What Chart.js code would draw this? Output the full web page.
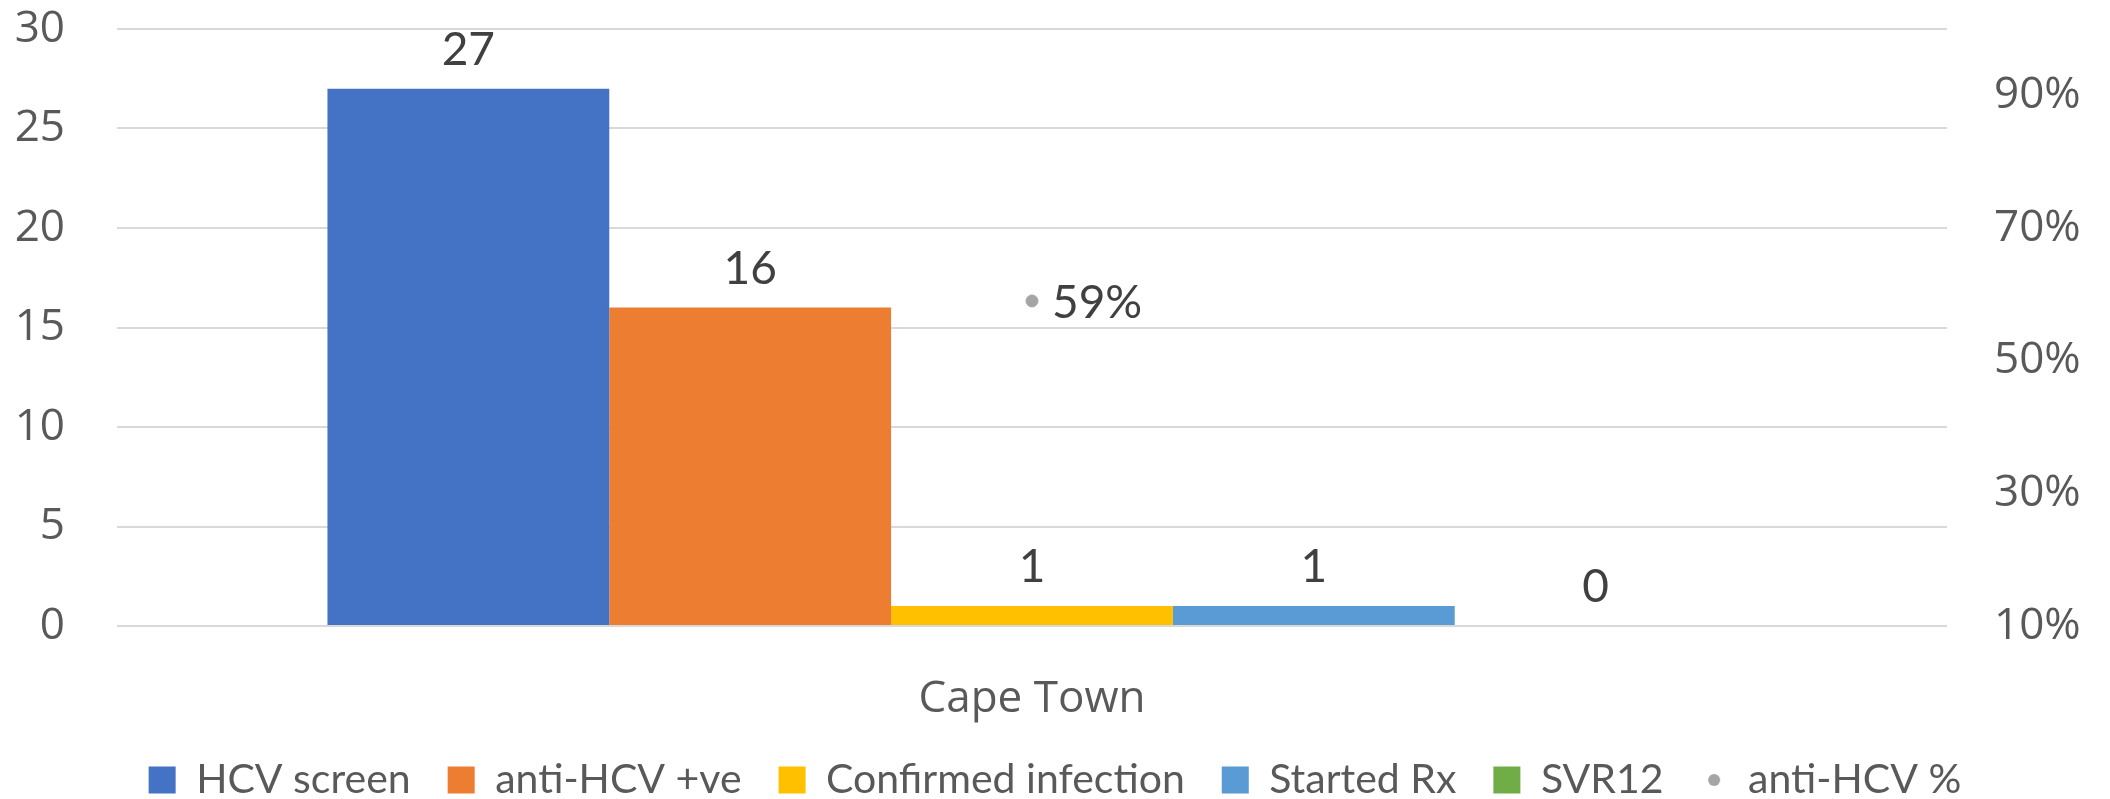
<!DOCTYPE html>
<html>
<head>
<meta charset="utf-8">
<script src="https://cdn.jsdelivr.net/npm/chart.js@4.4.1/dist/chart.umd.min.js"></script>
<style>
  html, body { margin: 0; padding: 0; background: #ffffff; }
  #wrap { width: 2110px; height: 799px; position: relative; }
</style>
</head>
<body>
<div id="wrap"><canvas id="c" width="2110" height="799"></canvas></div>
<script>
// ---- data ----
const categories = ['Cape Town'];
const hcvScreen = [27];
const antiHcvPos = [16];
const confirmedInfection = [1];
const startedRx = [1];
const svr12 = [0];
const antiHcvPct = [0.59];
const seriesNames = ['HCV screen', 'anti-HCV +ve', 'Confirmed infection', 'Started Rx', 'SVR12', 'anti-HCV %'];
const leftTickValues = [0, 5, 10, 15, 20, 25, 30];
const rightTickLabels = ['10%', '30%', '50%', '70%', '90%'];

const colors = ['#4472C4', '#ED7D31', '#FFC000', '#5B9BD5', '#70AD47', '#A5A5A5'];

const barSeries = [hcvScreen, antiHcvPos, confirmedInfection, startedRx, svr12];

const datasets = barSeries.map((vals, i) => ({
  type: 'bar',
  label: seriesNames[i],
  data: vals,
  backgroundColor: colors[i],
  borderWidth: 0,
  yAxisID: 'y',
  barPercentage: 1.0,
  categoryPercentage: 0.77,
  order: 2
}));
datasets.push({
  type: 'line',
  label: seriesNames[5],
  data: antiHcvPct,
  yAxisID: 'y1',
  showLine: false,
  pointRadius: 6,
  pointHoverRadius: 6,
  pointBackgroundColor: colors[5],
  pointBorderColor: colors[5],
  borderColor: colors[5],
  backgroundColor: colors[5],
  order: 1
});

// small dot image for legend marker of the point series
const dot = document.createElement('canvas');
dot.width = 14; dot.height = 14;
(function(){ const g = dot.getContext('2d'); g.fillStyle = colors[5]; g.beginPath(); g.arc(7, 7, 6, 0, Math.PI*2); g.fill(); })();

const valueLabels = {
  id: 'valueLabels',
  afterDatasetsDraw(chart) {
    const ctx = chart.ctx;
    ctx.save();
    ctx.fillStyle = '#404040';
    ctx.font = '46px Lato, "Liberation Sans", sans-serif';
    ctx.textBaseline = 'alphabetic';
    chart.data.datasets.forEach((ds, di) => {
      const meta = chart.getDatasetMeta(di);
      meta.data.forEach((el, i) => {
        const v = ds.data[i];
        if (ds.type === 'bar') {
          ctx.textAlign = 'center';
          ctx.fillText(String(v), el.x, el.y - 24);
        } else {
          ctx.textAlign = 'left';
          ctx.fillText(Math.round(v * 100) + '%', el.x + 20, el.y + 17);
        }
      });
    });
    ctx.restore();
  }
};

const axisFont = { family: '"Open Sans", sans-serif', size: 44 };

new Chart(document.getElementById('c'), {
  data: { labels: categories, datasets: datasets },
  plugins: [valueLabels],
  options: {
    responsive: false,
    animation: false,
    events: [],
    layout: { padding: { top: 29, left: 0, right: 0, bottom: -11.5 } },
    plugins: {
      tooltip: { enabled: false },
      legend: {
        position: 'bottom',
        labels: {
          usePointStyle: true,
          boxWidth: 27,
          boxHeight: 27,
          padding: 37,
          color: '#595959',
          font: { family: 'Lato, "Liberation Sans", sans-serif', size: 41 },
          generateLabels(chart) {
            return chart.data.datasets.map((ds, i) => ({
              text: ds.label,
              fillStyle: colors[i],
              strokeStyle: colors[i],
              lineWidth: 0,
              pointStyle: ds.type === 'line' ? dot : 'rect',
              fontColor: '#595959',
              hidden: false,
              datasetIndex: i
            }));
          }
        }
      }
    },
    scales: {
      x: {
        grid: { display: false, drawTicks: false },
        border: { display: false },
        ticks: { color: '#595959', font: axisFont, padding: 47 },
        afterFit(scale) { scale.height = 96.5; }
      },
      y: {
        position: 'left',
        min: 0, max: 30,
        afterBuildTicks(scale) { scale.ticks = leftTickValues.map(v => ({ value: v })); },
        grid: { color: '#D9D9D9', lineWidth: 2, drawTicks: true, tickLength: 50, tickColor: 'rgba(0,0,0,0)' },
        border: { display: false },
        ticks: { color: '#595959', font: axisFont, padding: 2 },
        afterFit(scale) { scale.width = 117; }
      },
      y1: {
        position: 'right',
        min: 0.1, max: 1.0,
        afterBuildTicks(scale) {
          scale.ticks = rightTickLabels.map(t => ({ value: parseFloat(t) / 100 }));
        },
        grid: { display: true, color: 'rgba(0,0,0,0)', drawOnChartArea: false, drawTicks: true, tickLength: 45, tickColor: 'rgba(0,0,0,0)' },
        border: { display: false },
        ticks: {
          color: '#595959',
          font: axisFont,
          padding: 2,
          callback(v) { return Math.round(v * 100) + '%'; }
        },
        afterFit(scale) { scale.width = 163; }
      }
    }
  }
});
</script>
</body>
</html>
